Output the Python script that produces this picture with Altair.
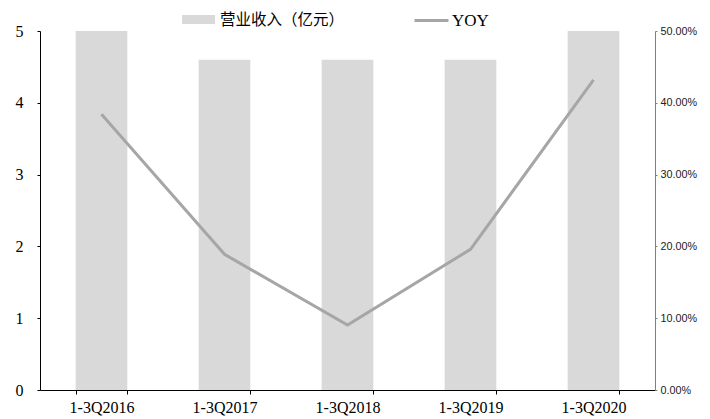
import altair as alt
import pandas as pd

periods = ["1-3Q2016", "1-3Q2017", "1-3Q2018", "1-3Q2019", "1-3Q2020"]
revenue = [5.0, 4.6, 4.6, 4.6, 5.0]          # 亿元 (first and last reach the axis top)
yoy = [0.384, 0.189, 0.0905, 0.196, 0.432]    # YOY growth

bar_name = "营业收入（亿元）"
line_name = "YOY"

df = pd.DataFrame({"period": periods, "revenue": revenue, "yoy": yoy,
                   "s1": [bar_name] * 5, "s2": [line_name] * 5})

x = alt.X("period:N", sort=periods, title=None,
          scale=alt.Scale(paddingInner=0.58, paddingOuter=0.29),
          axis=alt.Axis(labelAngle=0, labelFont="Liberation Serif", labelFontSize=16,
                        labelColor="#000000", labelPadding=5, tickBand="extent",
                        tickSize=4, domainColor="#000000", tickColor="#000000"))

bars = alt.Chart(df).mark_bar(clip=True, color="#D9D9D9").encode(
    x=x,
    y=alt.Y("revenue:Q", title=None,
            scale=alt.Scale(domain=[0, 5], nice=False),
            axis=alt.Axis(values=[0, 1, 2, 3, 4, 5], labelFont="Liberation Serif",
                          labelFontSize=16, labelColor="#000000", tickSize=3,
                          labelPadding=14, domainColor="#000000", tickColor="#000000",
                          grid=False)),
    fill=alt.Fill("s1:N", scale=alt.Scale(domain=[bar_name], range=["#D9D9D9"]),
                  legend=alt.Legend(title=None, orient="none", legendX=142, legendY=-28,
                                    symbolType="M-1,-0.27H1V0.27H-1Z", symbolSize=1089,
                                    symbolStrokeWidth=0, labelFont="Noto Sans CJK SC",
                                    labelFontSize=15.5, labelColor="#000000", padding=0,
                                    labelOffset=5)),
)

line = alt.Chart(df).mark_line(strokeWidth=3, color="#A6A6A6").encode(
    x=x,
    y=alt.Y("yoy:Q", title=None,
            scale=alt.Scale(domain=[0, 0.5], nice=False),
            axis=alt.Axis(orient="right", format=".2%", values=[0, 0.1, 0.2, 0.3, 0.4, 0.5],
                          labelFont="Liberation Sans", labelFontSize=10.8,
                          labelColor="#222222", tickSize=2, labelPadding=3,
                          domainColor="#808080", tickColor="#808080", grid=False)),
    stroke=alt.Stroke("s2:N", scale=alt.Scale(domain=[line_name], range=["#A6A6A6"]),
                      legend=alt.Legend(title=None, orient="none", legendX=373, legendY=-29,
                                        symbolType="stroke", symbolSize=1156,
                                        symbolStrokeWidth=3, labelFont="Liberation Serif",
                                        labelFontSize=17, labelColor="#000000", padding=0,
                                        labelOffset=2)),
)

chart = alt.layer(bars, line).resolve_scale(y="independent").properties(
    width=615, height=359,
    autosize=alt.AutoSizeParams(type="none"),
    padding={"left": 32, "top": 23, "right": 47, "bottom": 27},
).configure_view(stroke=None)

chart.save("out.html", embed_options={"renderer": "svg", "actions": False})
